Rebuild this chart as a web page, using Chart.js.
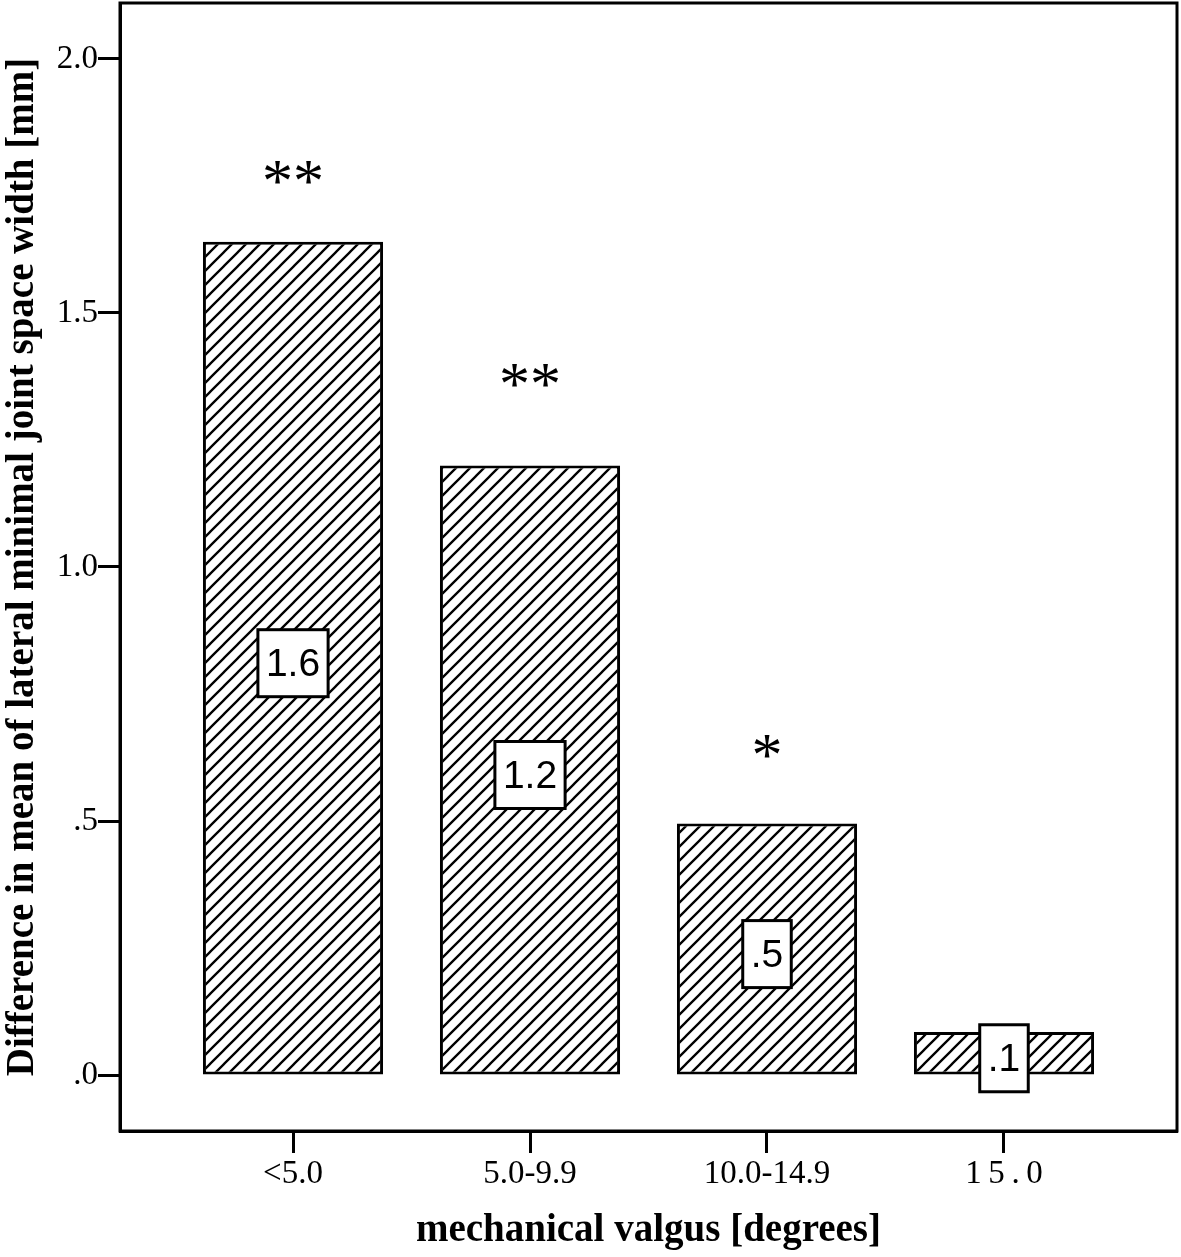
<!DOCTYPE html>
<html>
<head>
<meta charset="utf-8">
<script src="https://cdn.jsdelivr.net/npm/chart.js@4.4.0/dist/chart.umd.min.js"></script>
<style>
  html, body { margin: 0; padding: 0; background: #fff; }
  canvas { display: block; }
</style>
</head>
<body>
<canvas id="valgus_chart" width="1181" height="1257"></canvas>
<script>
// mechanical valgus groups and mean difference of lateral mJSW
const categories = ['<5.0', '5.0-9.9', '10.0-14.9', '1\u20095\u2009.\u20090'];
const meanDiff = [1.64, 1.20, 0.495, 0.085];
const significance = ['**', '**', '*', ''];
const markerLevels = [1.78, 1.38, 0.65, null];
const yTicks = [0, 0.5, 1.0, 1.5, 2.0];

function makeHatch(){
    const p = document.createElement('canvas');
    p.width = 14;
    p.height = 14;
    const c = p.getContext('2d');
    c.fillStyle = '#fff';
    c.fillRect(0, 0, 14, 14);
    c.strokeStyle = '#000';
    c.lineWidth = 2.3;
    c.beginPath();
    c.moveTo(-1, 15); c.lineTo(15, -1);
    c.moveTo(-8, 8); c.lineTo(8, -8);
    c.moveTo(6, 22); c.lineTo(22, 6);
    c.stroke();
    return c.createPattern(p, 'repeat');
}

const annotate = {
    id: 'annotate',
    afterDatasetsDraw(chart){
        const ctx = chart.ctx;
        const meta = chart.getDatasetMeta(0);
        const yScale = chart.scales.y;
        ctx.save();
        meta.data.forEach(function(bar, i){
            const txt = meanDiff[i].toFixed(1).replace(/^0/, '');
            ctx.font = '39px "Liberation Sans"';
            const w = ctx.measureText(txt).width + 16;
            const h = 67;
            const cy = (bar.y + bar.base) / 2 + 5;
            ctx.fillStyle = '#fff';
            ctx.fillRect(bar.x - w / 2, cy - h / 2, w, h);
            ctx.lineWidth = 3;
            ctx.strokeStyle = '#000';
            ctx.strokeRect(bar.x - w / 2, cy - h / 2, w, h);
            ctx.fillStyle = '#000';
            ctx.textAlign = 'center';
            ctx.textBaseline = 'middle';
            ctx.fillText(txt, bar.x, cy + 2);

            if(significance[i]){
                ctx.font = '62px "Liberation Serif"';
                ctx.textBaseline = 'alphabetic';
                ctx.fillText(significance[i], bar.x, yScale.getPixelForValue(markerLevels[i]) + 30);
            }
        });
        ctx.restore();
    },
    afterDraw(chart){
        const a = chart.chartArea;
        const ctx = chart.ctx;
        ctx.save();
        ctx.lineWidth = 3;
        ctx.strokeStyle = '#000';
        ctx.strokeRect(a.left, a.top, a.right - a.left, a.bottom - a.top);
        ctx.restore();
    }
};

const ctx = document.getElementById('valgus_chart').getContext('2d');
const chart = new Chart(ctx, {
    type: 'bar',
    data: {
        datasets: [{
            data: meanDiff.map(function(v, i){ return {x: i, y: v}; }),
            backgroundColor: makeHatch(),
            borderColor: '#000',
            borderWidth: 3,
            borderSkipped: false,
            barPercentage: 0.76,
            categoryPercentage: 1
        }]
    },
    options: {
        responsive: false,
        animation: false,
        layout: { padding: { top: 3, right: 4, left: 0, bottom: 0 } },
        plugins: {
            legend: { display: false },
            tooltip: { enabled: false }
        },
        scales: {
            x: {
                type: 'linear',
                offset: false,
                min: -0.73,
                max: 3.73,
                afterBuildTicks: function(axis){
                    axis.ticks = categories.map(function(c, i){ return {value: i}; });
                },
                afterFit: function(axis){
                    axis.height = 126;
                    axis.paddingLeft = 0;
                    axis.paddingRight = 0;
                },
                grid: {
                    offset: false,
                    drawOnChartArea: false,
                    drawTicks: true,
                    tickLength: 22,
                    tickWidth: 3,
                    tickColor: '#000'
                },
                border: { display: true, color: '#000', width: 3 },
                ticks: {
                    padding: 2,
                    color: '#000',
                    maxRotation: 0,
                    autoSkip: false,
                    font: { family: 'Liberation Serif', size: 33 },
                    callback: function(value){ return categories[value]; }
                },
                title: {
                    display: true,
                    text: 'mechanical valgus [degrees]',
                    color: '#000',
                    padding: { top: 0, bottom: 3 },
                    font: { family: 'Liberation Serif', size: 39, weight: 'bold' }
                }
            },
            y: {
                min: -0.11,
                max: 2.11,
                afterBuildTicks: function(axis){
                    axis.ticks = yTicks.map(function(v){ return {value: v}; });
                },
                afterFit: function(axis){
                    axis.width = 120;
                    axis.paddingTop = 0;
                    axis.paddingBottom = 0;
                },
                grid: {
                    drawOnChartArea: false,
                    drawTicks: true,
                    tickLength: 22,
                    tickWidth: 3,
                    tickColor: '#000'
                },
                border: { display: true, color: '#000', width: 3 },
                ticks: {
                    padding: 0,
                    color: '#000',
                    font: { family: 'Liberation Serif', size: 33 },
                    callback: function(value){ return value.toFixed(1).replace(/^0/, ''); }
                },
                title: {
                    display: true,
                    text: 'Difference in mean of lateral minimal joint space width [mm]',
                    color: '#000',
                    padding: 0,
                    font: { family: 'Liberation Serif', size: 39, weight: 'bold' }
                }
            }
        }
    },
    plugins: [annotate]
});
</script>
</body>
</html>
